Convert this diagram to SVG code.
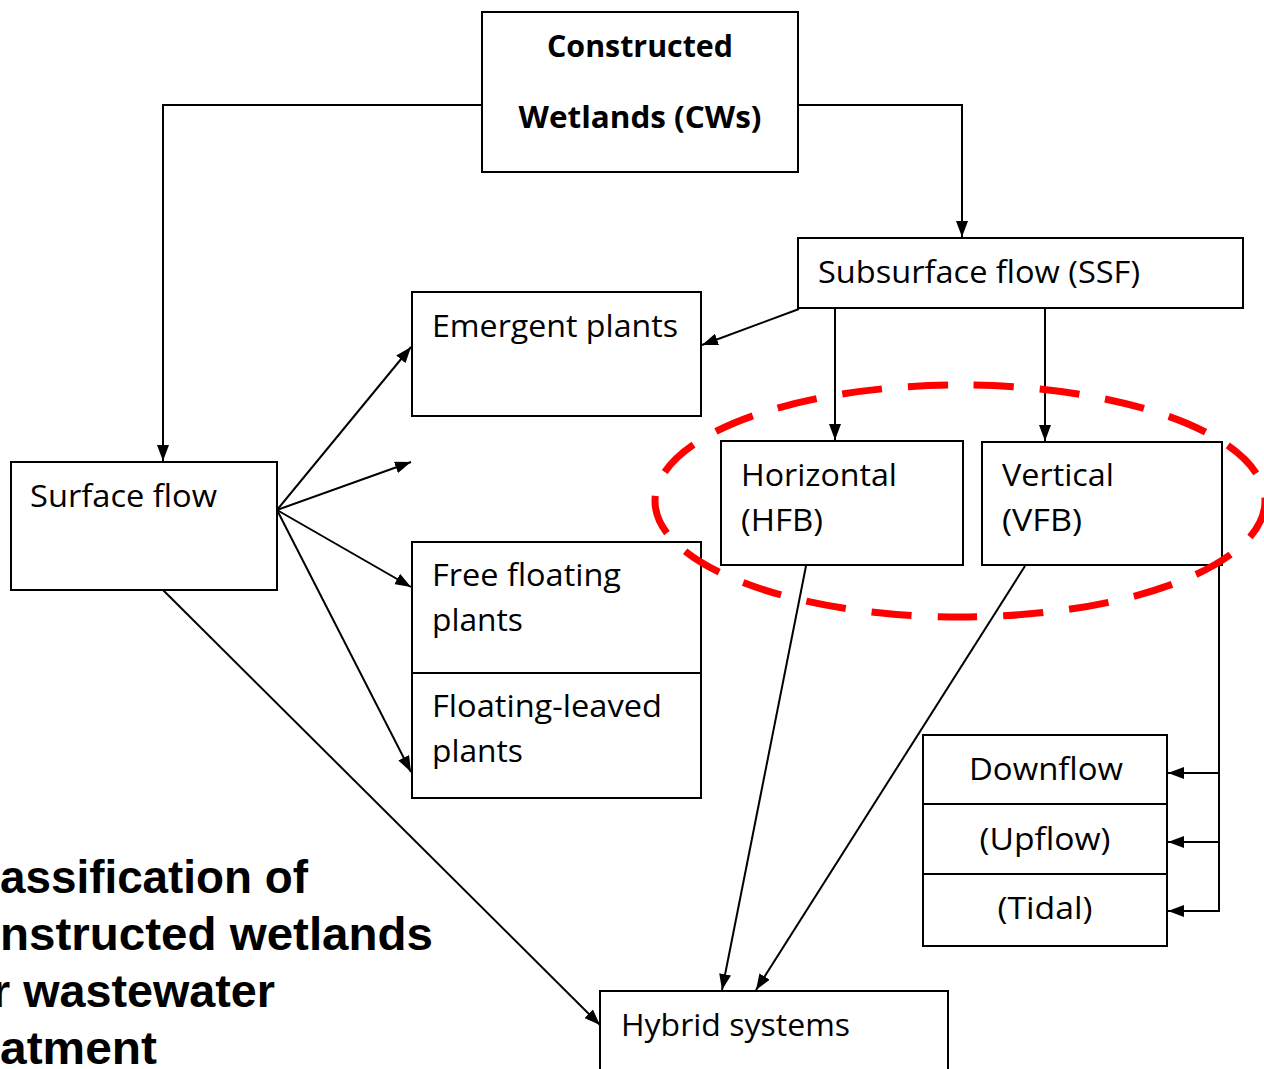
<svg xmlns="http://www.w3.org/2000/svg" width="1264" height="1069" viewBox="0 0 1264 1069">
<style>
.box{fill:#fff;stroke:#000;stroke-width:2}
.t{font-family:"Open Sans","Noto Sans",sans-serif;font-size:31px;fill:#000}
.tb{font-family:"Open Sans","Noto Sans",sans-serif;font-size:31px;font-weight:bold;fill:#000}
.cap{font-family:"Liberation Sans",Arial,sans-serif;font-size:47px;font-weight:bold;fill:#000}
.c{fill:none;stroke:#000;stroke-width:2}
</style>
<defs>
<marker id="ah" viewBox="0 0 16 12" refX="16" refY="6" markerWidth="16" markerHeight="12" markerUnits="userSpaceOnUse" orient="auto">
<path d="M0,0 L16,6 L0,12 z" fill="#000"/>
</marker>
</defs>
<rect width="1264" height="1069" fill="#fff"/>
<g id="connectors">
<polyline class="c" points="482,105 163,105 163,461" marker-end="url(#ah)"/>
<polyline class="c" points="798,105 962,105 962,237" marker-end="url(#ah)"/>
<line class="c" x1="799" y1="309" x2="702" y2="345" marker-end="url(#ah)"/>
<line class="c" x1="835" y1="309" x2="835" y2="440" marker-end="url(#ah)"/>
<line class="c" x1="1045" y1="309" x2="1045" y2="441" marker-end="url(#ah)"/>
<line class="c" x1="277" y1="510" x2="411" y2="347" marker-end="url(#ah)"/>
<line class="c" x1="277" y1="510" x2="411" y2="462" marker-end="url(#ah)"/>
<line class="c" x1="277" y1="510" x2="411" y2="587" marker-end="url(#ah)"/>
<line class="c" x1="277" y1="510" x2="411" y2="772" marker-end="url(#ah)"/>
<line class="c" x1="163" y1="590" x2="600" y2="1025" marker-end="url(#ah)"/>
<line class="c" x1="806" y1="566" x2="722" y2="990" marker-end="url(#ah)"/>
<line class="c" x1="1025" y1="566" x2="756" y2="990" marker-end="url(#ah)"/>
<polyline class="c" points="1219,565 1219,911 1168,911" marker-end="url(#ah)"/>
<line class="c" x1="1219" y1="773" x2="1168" y2="773" marker-end="url(#ah)"/>
<line class="c" x1="1219" y1="842" x2="1168" y2="842" marker-end="url(#ah)"/>
</g>
<g id="cw">
<rect class="box" x="482" y="12" width="316" height="160"/>
<text class="tb" x="640" y="57" text-anchor="middle" textLength="186" lengthAdjust="spacingAndGlyphs">Constructed</text>
<text class="tb" x="640" y="128" text-anchor="middle" textLength="243" lengthAdjust="spacingAndGlyphs">Wetlands (CWs)</text>
</g>
<g id="ssf">
<rect class="box" x="798" y="238" width="445" height="70"/>
<text class="t" x="818" y="283" textLength="322" lengthAdjust="spacingAndGlyphs">Subsurface flow (SSF)</text>
</g>
<g id="emergent">
<rect class="box" x="412" y="292" width="289" height="124"/>
<text class="t" x="432" y="337" textLength="246" lengthAdjust="spacingAndGlyphs">Emergent plants</text>
</g>
<g id="surface">
<rect class="box" x="11" y="462" width="266" height="128"/>
<text class="t" x="30" y="507" textLength="187" lengthAdjust="spacingAndGlyphs">Surface flow</text>
</g>
<g id="hfb">
<rect class="box" x="721" y="441" width="242" height="124"/>
<text class="t" x="741" y="486" textLength="156" lengthAdjust="spacingAndGlyphs">Horizontal</text>
<text class="t" x="741" y="531" textLength="82" lengthAdjust="spacingAndGlyphs">(HFB)</text>
</g>
<g id="vfb">
<rect class="box" x="982" y="442" width="240" height="123"/>
<text class="t" x="1002" y="486" textLength="112" lengthAdjust="spacingAndGlyphs">Vertical</text>
<text class="t" x="1002" y="531" textLength="80" lengthAdjust="spacingAndGlyphs">(VFB)</text>
</g>
<g id="freefloating">
<rect class="box" x="412" y="542" width="289" height="131"/>
<text class="t" x="432" y="586" textLength="189" lengthAdjust="spacingAndGlyphs">Free floating</text>
<text class="t" x="432" y="631" textLength="91" lengthAdjust="spacingAndGlyphs">plants</text>
</g>
<g id="floatingleaved">
<rect class="box" x="412" y="673" width="289" height="125"/>
<text class="t" x="432" y="717" textLength="230" lengthAdjust="spacingAndGlyphs">Floating-leaved</text>
<text class="t" x="432" y="762" textLength="91" lengthAdjust="spacingAndGlyphs">plants</text>
</g>
<g id="downflow">
<rect class="box" x="923" y="735" width="244" height="69"/>
<text class="t" x="1046" y="780" text-anchor="middle" textLength="154" lengthAdjust="spacingAndGlyphs">Downflow</text>
</g>
<g id="upflow">
<rect class="box" x="923" y="804" width="244" height="70"/>
<text class="t" x="1045" y="850" text-anchor="middle" textLength="131" lengthAdjust="spacingAndGlyphs">(Upflow)</text>
</g>
<g id="tidal">
<rect class="box" x="923" y="874" width="244" height="72"/>
<text class="t" x="1045" y="919" text-anchor="middle" textLength="95" lengthAdjust="spacingAndGlyphs">(Tidal)</text>
</g>
<g id="hybrid">
<rect class="box" x="600" y="991" width="348" height="90"/>
<text class="t" x="621" y="1036" textLength="229" lengthAdjust="spacingAndGlyphs">Hybrid systems</text>
</g>
<g id="highlight">
<ellipse cx="960" cy="501" rx="305" ry="116" fill="none" stroke="#f00" stroke-width="7" stroke-dasharray="40 26"/>
</g>
<g id="caption">
<text class="cap" x="0" y="893" textLength="308" lengthAdjust="spacingAndGlyphs">assification of</text>
<text class="cap" x="0" y="950" textLength="433" lengthAdjust="spacingAndGlyphs">nstructed wetlands</text>
<text class="cap" x="-8" y="1007" textLength="283" lengthAdjust="spacingAndGlyphs">r wastewater</text>
<text class="cap" x="0" y="1064" textLength="157" lengthAdjust="spacingAndGlyphs">atment</text>
</g>
</svg>
